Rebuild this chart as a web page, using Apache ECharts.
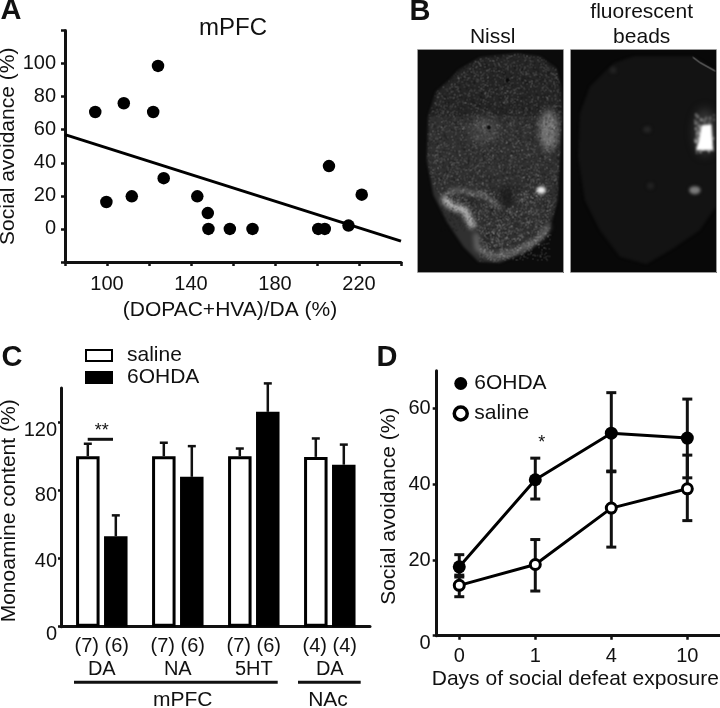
<!DOCTYPE html>
<html><head><meta charset="utf-8">
<script src="https://cdn.jsdelivr.net/npm/echarts@6/dist/echarts.min.js"></script>
<style>html,body{margin:0;padding:0;background:#fff}#c{width:720px;height:708px}</style></head>
<body><div id="c"></div>
<script>
// Panel A
const scatterX = [94.4,99.7,108,111.8,122,124.3,127,143,148,148.3,158.5,169.3,200.6,203.7,205.7,215,221.3];
const scatterY = [70.7,16.3,76,19.7,70.7,98.6,30.7,19.7,9.6,0,0,0,0,0,38,2,20.7];
const fitX = [80,240];
const fitY = [57,-7.4];
const aXLabels = [100,140,180,220];
const aYLabels = [0,20,40,60,80,100];
// Panel C
const cGroups = ['(7) (6)\nDA','(7) (6)\nNA','(7) (6)\n5HT','(4) (4)\nDA'];
const cSaline = [100,100,100,99.6];
const cSalineTop = [107.3,107.9,104.5,110.4];
const cLesion = [53,87.9,126,95];
const cLesionTop = [65.3,105.9,142.7,106.8];
const cYLabels = [0,40,80,120];
// Panel D
const days = ['0','1','4','10'];
const dLesion = [18.2,41.2,53.5,52.2];
const dLesionHi = [21.4,46.9,64.2,62.5];
const dLesionLo = [15.5,36.1,43.3,41.7];
const dSaline = [13.3,18.8,33.7,38.8];
const dSalineHi = [16,25.4,43.5,47.7];
const dSalineLo = [10.3,11.8,23.4,30.4];
const dYLabels = [0,20,40,60];

const FONT = '"Liberation Sans", Arial, sans-serif';
const INK = '#111';
const FS = 20, NS = 21;
const axisLine = {show:true,onZero:false,lineStyle:{color:INK,width:3}};
const tick = (len,extra)=>Object.assign({show:true,length:len,lineStyle:{color:INK,width:2.5}},extra||{});
const label = (extra)=>Object.assign({color:INK,fontFamily:FONT,fontSize:FS},extra||{});
const nameStyle = (extra)=>Object.assign({color:INK,fontFamily:FONT,fontSize:NS},extra||{});
const drop = (p)=>({color:INK,fontFamily:FONT,fontSize:FS,padding:[p,0,0,0]});

// ---- Panel B micrographs (textures only, no chart values) ----
function lcg(seed){let s=seed;return ()=>{s=(s*1664525+1013904223)>>>0;return s/4294967296;};}
function mk(offX,bg,outline,paint){
  const cv=document.createElement('canvas');cv.width=146;cv.height=223;
  const g=cv.getContext('2d');
  g.fillStyle=bg;g.fillRect(0,0,146,223);
  g.scale(1/3,1/3);g.translate(-offX,-148);
  paint(g,outline);
  return cv;
}
function path(g,pts){g.beginPath();pts.forEach((p,i)=>i?g.lineTo(p[0],p[1]):g.moveTo(p[0],p[1]));g.closePath();}
function glow(g,x,y,rx,ry,col,blur){g.save();g.filter='blur('+(blur/3)+'px)';g.fillStyle=col;g.beginPath();g.ellipse(x,y,rx,ry,0,0,7);g.fill();g.restore();}
function band(g,pts,w,col,blur){g.save();g.filter='blur('+(blur/3)+'px)';g.strokeStyle=col;g.lineWidth=w;g.lineJoin='round';g.lineCap='round';g.beginPath();pts.forEach((p,i)=>i?g.lineTo(p[0],p[1]):g.moveTo(p[0],p[1]));g.stroke();g.restore();}
const nisslOutline=[[175,210],[240,172],[350,160],[420,170],[468,205],[482,260],[486,350],[480,460],[472,600],[445,700],[390,750],[300,788],[235,785],[190,740],[140,665],[100,585],[80,480],[84,350],[108,275],[150,238]];
const beadOutline=[[640,190],[700,168],[880,168],[948,210],[948,620],[900,690],[820,745],[740,792],[660,770],[600,690],[555,600],[535,470],[540,340],[570,260]];
const nissl=mk(52,'#0b0b0b',nisslOutline,(g,o)=>{
  g.save();g.filter='blur(1.2px)';path(g,o);g.fillStyle='#303030';g.fill();g.restore();
  g.save();path(g,o);g.clip();
  g.fillStyle='rgba(0,0,0,0.22)';g.fillRect(52,148,440,200);
  glow(g,250,390,45,40,'rgba(120,120,120,0.35)',14);
  glow(g,445,390,28,62,'rgba(150,150,150,0.65)',9);
  const r=lcg(7);
  for(let i=0;i<8000;i++){const x=52+r()*440,y=148+r()*668,v=r();
    if(y-560>(x-100)*1.05&&x<235) continue;
    g.fillStyle=v>0.5?'rgba(190,190,190,0.36)':'rgba(5,5,5,0.40)';g.fillRect(x,y,3,3);}
  g.restore();
  band(g,[[135,600],[155,618],[195,632],[215,675]],22,'rgba(225,225,225,0.72)',7);
  band(g,[[130,590],[165,568],[250,585],[300,620]],12,'rgba(160,160,160,0.45)',7);
  band(g,[[228,705],[232,745],[280,770],[345,755],[420,715],[445,680]],14,'rgba(190,190,190,0.45)',8);
  const r2=lcg(23);
  for(let i=0;i<800;i++){const x=130+r2()*320,y=570+r2()*210;if(y-560>(x-100)*1.05&&x<235)continue;g.fillStyle='rgba(235,235,235,0.32)';g.fillRect(x,y,3,3);}
  const r3=lcg(41);
  for(let i=0;i<260;i++){const x=120+r3()*110,y=580+r3()*110;g.fillStyle='rgba(20,20,20,0.4)';g.fillRect(x,y,3,3);}
  glow(g,320,590,22,34,'rgba(25,25,25,0.85)',10);
  glow(g,423,570,14,11,'rgba(250,250,250,0.95)',5);
  glow(g,322,240,6,6,'rgba(5,5,5,0.9)',1);glow(g,266,382,6,6,'rgba(5,5,5,0.9)',1);
});
const beads=mk(512,'#080808',beadOutline,(g,o)=>{
  g.save();g.filter='blur(1.2px)';path(g,o);g.fillStyle='#131313';g.fill();g.restore();
  glow(g,915,395,32,70,'rgba(100,100,100,0.45)',14);
  const r=lcg(11);
  g.fillStyle='#fff';
  g.save();g.filter='blur(0.8px)';
  g.beginPath();g.moveTo(905,375);g.lineTo(935,372);g.lineTo(940,450);g.lineTo(888,450);g.lineTo(897,420);g.closePath();g.fill();
  for(let i=0;i<90;i++){g.fillRect(884+r()*58,340+r()*115,2,3+r()*6);}
  g.restore();
  glow(g,885,570,17,12,'rgba(135,135,135,0.9)',5);
  glow(g,742,388,12,10,'rgba(50,50,50,0.6)',5);
  glow(g,752,557,10,10,'rgba(45,45,45,0.6)',5);
  glow(g,640,210,10,10,'rgba(45,45,45,0.6)',5);
  band(g,[[880,172],[900,187],[945,212]],3,'rgba(200,200,200,0.7)',1);
});

// ---- error bars via the chart's scales ----
function errorSeries(name,xIdx,yIdx,rows,dx,capHalf,w){
  return {type:'custom',name,xAxisIndex:xIdx,yAxisIndex:yIdx,clip:false,silent:true,z:3,
    encode:{x:0,y:1},data:rows,
    renderItem(p,api){
      const a=api.coord([api.value(0),api.value(1)]),b=api.coord([api.value(0),api.value(2)]);
      const x=a[0]+dx,st={stroke:INK,lineWidth:w,fill:'none'};
      const ln=(x1,y1,x2,y2)=>({type:'line',shape:{x1,y1,x2,y2},style:st});
      return {type:'group',children:[ln(x,a[1],x,b[1]),ln(x-capHalf,b[1],x+capHalf,b[1]),ln(x-capHalf,a[1],x+capHalf,a[1])]};
    }};
}
function topOnly(name,xIdx,yIdx,rows,dx){
  return {type:'custom',name,xAxisIndex:xIdx,yAxisIndex:yIdx,clip:false,silent:true,z:3,
    encode:{x:0,y:1},data:rows,
    renderItem(p,api){
      const a=api.coord([api.value(0),api.value(1)]),b=api.coord([api.value(0),api.value(2)]);
      const x=a[0]+dx,st={stroke:INK,lineWidth:2.5,fill:'none'};
      return {type:'group',children:[
        {type:'line',shape:{x1:x,y1:a[1],x2:x,y2:b[1]},style:st},
        {type:'line',shape:{x1:x-4,y1:b[1],x2:x+4,y2:b[1]},style:st}]};
    }};
}
const gx=cGroups.map((_,i)=>i+1);
const dx=days.map((_,i)=>i);
const txt=(text,x,y,font,extra)=>({type:'text',silent:true,style:Object.assign({text,x,y,font,fill:INK,textAlign:'center',textVerticalAlign:'middle'},extra||{})});
const F=NS+'px '+FONT, L='bold 29px '+FONT;
const rule=(x1,x2,y,w)=>({type:'line',silent:true,shape:{x1,y1:y,x2,y2:y},style:{stroke:INK,lineWidth:w||3}});

const option={
  animation:false,
  backgroundColor:'#fff',
  title:[{text:'mPFC',left:228,top:23,textAlign:'center',textVerticalAlign:'middle',textStyle:{color:INK,fontFamily:FONT,fontSize:24,fontWeight:'normal'}}],
  legend:[
    {data:['saline','6OHDA'],left:85,top:345,orient:'vertical',icon:'rect',itemWidth:26,itemHeight:11,itemGap:1,selectedMode:false,padding:0,
     textStyle:{color:INK,fontFamily:FONT,fontSize:NS,padding:[0,0,0,10]}},
    {data:['6OHDA (D)',{name:'saline (D)',itemStyle:{color:'#fff',borderColor:'#000',borderWidth:3.5}}],left:452.5,top:373,orient:'vertical',icon:'circle',itemWidth:13,itemHeight:13,itemGap:9,selectedMode:false,padding:0,
     formatter:n=>n.replace(' (D)',''),
     textStyle:{color:INK,fontFamily:FONT,fontSize:NS,padding:[0,0,0,2]}}
  ],
  grid:[
    {left:65,top:30.5,width:336,height:231.5,outerBoundsMode:'none'},
    {left:61,top:388,width:309,height:238.7,outerBoundsMode:'none'},
    {left:436.7,top:370.7,width:283.3,height:265,outerBoundsMode:'none'}
  ],
  xAxis:[
    {gridIndex:0,type:'value',min:80,max:240,interval:20,axisLine,splitLine:{show:false},axisTick:tick(4),
     axisLabel:label({customValues:aXLabels,margin:12}),
     name:'(DOPAC+HVA)/DA (%)',nameLocation:'middle',nameGap:38,nameTextStyle:nameStyle({padding:[0,6,0,0]})},
    {gridIndex:1,type:'value',min:0.463,max:4.529,axisLine,splitLine:{show:false},axisTick:{show:false},
     axisLabel:label({customValues:gx,margin:8,lineHeight:23,formatter:v=>cGroups[v-1]})},
    {gridIndex:2,type:'value',min:-0.297,max:3.43,axisLine,splitLine:{show:false},axisTick:tick(4,{customValues:dx}),
     axisLabel:label({customValues:dx,margin:11,formatter:v=>days[v]}),
     name:'Days of social defeat exposure',nameLocation:'middle',nameGap:33,nameTextStyle:nameStyle({padding:[0,6,0,0]})}
  ],
  yAxis:[
    {gridIndex:0,type:'value',min:-20,max:120,interval:20,axisLine,splitLine:{show:false},axisTick:tick(4),
     axisLabel:label({customValues:aYLabels,margin:9}),
     name:'Social avoidance (%)',nameLocation:'middle',nameGap:44,nameTextStyle:nameStyle()},
    {gridIndex:1,type:'value',min:0,max:140,axisLine,splitLine:{show:false},axisTick:tick(3,{customValues:cYLabels}),
     axisLabel:label({customValues:cYLabels,margin:4,formatter:v=>'{d'+v+'|'+v+'}',rich:{d0:drop(16),d40:drop(6),d80:drop(10),d120:drop(16)}}),
     name:'Monoamine content (%)',nameLocation:'middle',nameGap:38,nameTextStyle:nameStyle({padding:[0,0,0,-7]})},
    {gridIndex:2,type:'value',min:0,max:70,axisLine,splitLine:{show:false},axisTick:tick(4,{customValues:dYLabels}),
     axisLabel:label({customValues:dYLabels,margin:6,formatter:v=>v===0?'{z|0}':String(v),rich:{z:drop(16)}}),
     name:'Social avoidance (%)',nameLocation:'middle',nameGap:37,nameTextStyle:nameStyle({padding:[0,0,0,-6]})}
  ],
  series:[
    {type:'scatter',name:'samples',xAxisIndex:0,yAxisIndex:0,symbol:'circle',symbolSize:12.5,itemStyle:{color:'#000',opacity:1},
     data:scatterX.map((x,i)=>[x,scatterY[i]]),z:4},
    {type:'line',name:'fit',xAxisIndex:0,yAxisIndex:0,symbol:'none',lineStyle:{color:'#000',width:3},
     data:fitX.map((x,i)=>[x,fitY[i]]),z:3},

    {type:'bar',name:'saline',xAxisIndex:1,yAxisIndex:1,barWidth:23.5,barGap:'19%',
     itemStyle:{color:'#fff',borderColor:'#000',borderWidth:3},data:gx.map((x,i)=>[x,cSaline[i]])},
    {type:'bar',name:'6OHDA',xAxisIndex:1,yAxisIndex:1,barWidth:23.5,barGap:'19%',
     itemStyle:{color:'#000',borderColor:'#000',borderWidth:3},data:gx.map((x,i)=>[x,cLesion[i]])},
    topOnly('saline err',1,1,gx.map((x,i)=>[x,cSaline[i],cSalineTop[i]]),-14),
    topOnly('6OHDA err',1,1,gx.map((x,i)=>[x,cLesion[i],cLesionTop[i]]),14),

    errorSeries('6OHDA range',2,2,dx.map((x,i)=>[x,dLesionLo[i],dLesionHi[i]]),0,5,3),
    errorSeries('saline range',2,2,dx.map((x,i)=>[x,dSalineLo[i],dSalineHi[i]]),0,5,3),
    {type:'line',name:'6OHDA (D)',xAxisIndex:2,yAxisIndex:2,symbol:'circle',symbolSize:13,z:5,
     lineStyle:{color:'#000',width:3},itemStyle:{color:'#000'},data:dx.map((x,i)=>[x,dLesion[i]])},
    {type:'line',name:'saline (D)',xAxisIndex:2,yAxisIndex:2,symbol:'circle',symbolSize:10,z:6,
     lineStyle:{color:'#000',width:3},itemStyle:{color:'#fff',borderColor:'#000',borderWidth:3},data:dx.map((x,i)=>[x,dSaline[i]])}
  ],
  graphic:[
    txt('A',11,11,L),txt('B',420,12,L),txt('C',12,358,L),txt('D',387,358,L),
    txt('Nissl',492.7,37.7,F),txt('fluorescent',641.7,12,F),txt('beads',641.7,37.7,F),
    {type:'image',silent:true,style:{image:nissl,x:417.5,y:49.5,width:146,height:223}},
    {type:'rect',silent:true,shape:{x:417.5,y:49.5,width:146,height:223},style:{fill:'none',stroke:'#999',lineWidth:1}},
    {type:'image',silent:true,style:{image:beads,x:570.5,y:49.5,width:146,height:223}},
    {type:'rect',silent:true,shape:{x:570.5,y:49.5,width:146,height:223},style:{fill:'none',stroke:'#999',lineWidth:1}},
    rule(87.7,113,439.3),txt('**',101.7,431,'18px '+FONT),
    rule(74,277.7,682.3),rule(298,360.7,682.3),
    txt('mPFC',182.7,700,F),txt('NAc',328,700,F),
    txt('*',541.7,443,'18px '+FONT)
  ]
};
echarts.init(document.getElementById('c'),null,{renderer:'canvas'}).setOption(option);
</script></body></html>
